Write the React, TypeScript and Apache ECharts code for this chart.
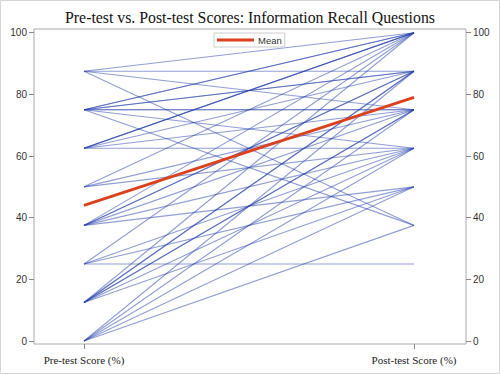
import React, { useEffect, useRef } from "react";
import * as echarts from "echarts";

// Each student: pre-test score and post-test score (paired by index)
const preScores = [
  87.5, 87.5, 87.5, 87.5,
  75, 75, 75, 75, 75, 75, 75, 75,
  62.5, 62.5, 62.5, 62.5, 62.5, 62.5,
  50, 50, 50,
  37.5, 37.5, 37.5, 37.5, 37.5, 37.5,
  25, 25, 25, 25,
  12.5, 12.5, 12.5, 12.5, 12.5, 12.5, 12.5,
  0, 0, 0, 0, 0,
];
const postScores = [
  100, 87.5, 75, 37.5,
  100, 100, 87.5, 87.5, 75, 75, 62.5, 37.5,
  100, 100, 100, 87.5, 75, 62.5,
  100, 75, 62.5,
  100, 87.5, 87.5, 75, 62.5, 50,
  100, 62.5, 50, 25,
  87.5, 87.5, 75, 75, 100, 62.5, 50,
  87.5, 75, 62.5, 50, 37.5,
];
const meanScores = [44, 79];
const testLabels = ["Pre-test Score (%)", "Post-test Score (%)"];
const yTicks = [0, 20, 40, 60, 80, 100];
const titleText = "Pre-test vs. Post-test Scores: Information Recall Questions";

export default function App() {
  const ref = useRef<HTMLDivElement>(null);
  useEffect(() => {
    if (!ref.current) return;
    const chart = echarts.init(ref.current, undefined, { renderer: "svg" });
    const studentSeries = preScores.map((p, i) => ({
      type: "line",
      name: "s" + i,
      data: [
        [0, p],
        [1, postScores[i]],
      ],
      symbol: "none",
      silent: true,
      lineStyle: { color: "rgb(35,62,172)", opacity: 0.5, width: 1.1 },
      z: 2,
    }));
    const yAxisBase = {
      type: "value",
      min: -0.97,
      max: 101.2,
      axisLine: { show: false, onZero: false },
      splitLine: { show: false },
      axisTick: {
        show: true,
        customValues: yTicks,
        length: 5,
        lineStyle: { color: "#888" },
      },
      axisLabel: {
        customValues: yTicks,
        color: "#333",
        fontSize: 10,
        fontFamily: "Liberation Sans",
        margin: 7,
      },
    };
    chart.setOption({
      animation: false,
      backgroundColor: "#fff",
      title: {
        text: titleText,
        left: "center",
        top: 4,
        textStyle: {
          fontFamily: "Liberation Serif",
          fontSize: 15.8,
          fontWeight: "normal",
          color: "#111",
        },
      },
      legend: {
        data: ["Mean"],
        left: 214,
        top: 33,
        icon: "rect",
        itemWidth: 37,
        itemHeight: 3,
        itemGap: 4,
        padding: [2, 3],
        borderColor: "#ccc",
        borderWidth: 1,
        textStyle: { fontSize: 9.5, fontFamily: "Liberation Sans", color: "#333", padding: [0, 0, 0, -1] },
      },
      grid: {
        left: 34,
        right: 34,
        top: 29,
        bottom: 30,
        show: true,
        borderColor: "#aaa",
        borderWidth: 1,
        containLabel: false,
      },
      xAxis: {
        type: "value",
        min: -0.1515,
        max: 1.1576,
        axisLine: { show: false, onZero: false },
        splitLine: { show: false },
        axisTick: {
          show: true,
          customValues: [0, 1],
          length: 5,
          lineStyle: { color: "#888" },
        },
        axisLabel: {
          customValues: [0, 1],
          formatter: (v: number) => (v < 0.5 ? testLabels[0] : testLabels[1]),
          fontFamily: "Liberation Serif",
          fontSize: 11,
          color: "#222",
          margin: 10,
        },
      },
      yAxis: [
        { ...yAxisBase, position: "left" },
        { ...yAxisBase, position: "right" },
      ],
      series: [
        ...studentSeries,
        {
          type: "line",
          name: "Mean",
          data: [
            [0, meanScores[0]],
            [1, meanScores[1]],
          ],
          symbol: "none",
          lineStyle: { color: "#db411c", width: 2.8 },
          itemStyle: { color: "#db411c" },
          z: 5,
        },
      ],
      graphic: [
        {
          type: "rect",
          shape: { x: 0.5, y: 0.5, width: 499, height: 373 },
          style: { fill: "none", stroke: "#d4d4d4", lineWidth: 1 },
          silent: true,
        },
      ],
    });
    return () => chart.dispose();
  }, []);
  return (
    <div
      ref={ref}
      style={{ position: "fixed", left: 0, top: 0, width: 500, height: 374 }}
    />
  );
}
